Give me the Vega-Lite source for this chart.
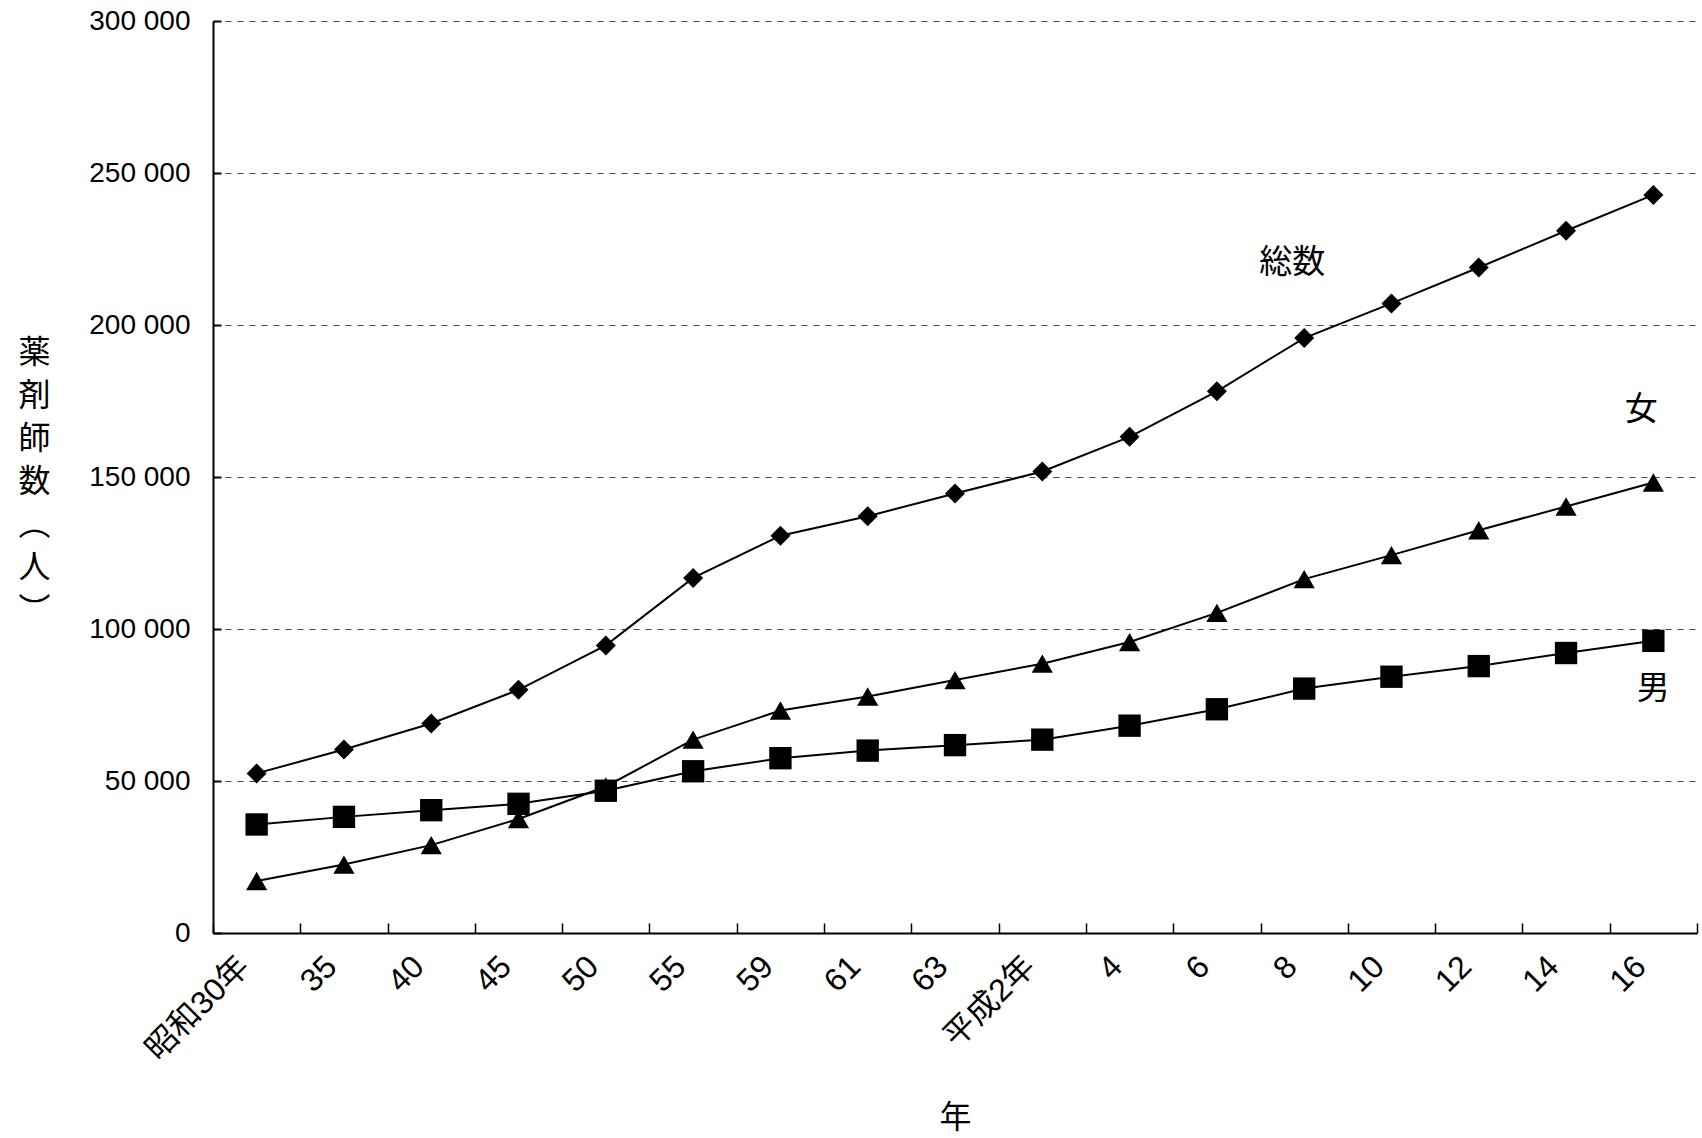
{
  "$schema": "https://vega.github.io/schema/vega-lite/v6.json",
  "width": 1484,
  "height": 912,
  "autosize": {"type": "none"},
  "padding": {"left": 213, "top": 21, "right": 5, "bottom": 205},
  "background": "white",
  "config": {
    "view": {"stroke": null},
    "font": "Liberation Sans, Noto Sans CJK JP"
  },
  "datasets": {
    "series": [
      {"year": "昭和30年", "series": "総数", "value": 52500},
      {"year": "35", "series": "総数", "value": 60350},
      {"year": "40", "series": "総数", "value": 68900},
      {"year": "45", "series": "総数", "value": 80000},
      {"year": "50", "series": "総数", "value": 94600},
      {"year": "55", "series": "総数", "value": 116800},
      {"year": "59", "series": "総数", "value": 130700},
      {"year": "61", "series": "総数", "value": 137100},
      {"year": "63", "series": "総数", "value": 144600},
      {"year": "平成2年", "series": "総数", "value": 151800},
      {"year": "4", "series": "総数", "value": 163200},
      {"year": "6", "series": "総数", "value": 178200},
      {"year": "8", "series": "総数", "value": 195700},
      {"year": "10", "series": "総数", "value": 207100},
      {"year": "12", "series": "総数", "value": 218900},
      {"year": "14", "series": "総数", "value": 231000},
      {"year": "16", "series": "総数", "value": 242800},
      {"year": "昭和30年", "series": "女", "value": 17100},
      {"year": "35", "series": "女", "value": 22500},
      {"year": "40", "series": "女", "value": 28900},
      {"year": "45", "series": "女", "value": 37500},
      {"year": "50", "series": "女", "value": 48200},
      {"year": "55", "series": "女", "value": 63600},
      {"year": "59", "series": "女", "value": 73200},
      {"year": "61", "series": "女", "value": 77800},
      {"year": "63", "series": "女", "value": 83200},
      {"year": "平成2年", "series": "女", "value": 88600},
      {"year": "4", "series": "女", "value": 95700},
      {"year": "6", "series": "女", "value": 105300},
      {"year": "8", "series": "女", "value": 116400},
      {"year": "10", "series": "女", "value": 124300},
      {"year": "12", "series": "女", "value": 132500},
      {"year": "14", "series": "女", "value": 140300},
      {"year": "16", "series": "女", "value": 148200},
      {"year": "昭和30年", "series": "男", "value": 35700},
      {"year": "35", "series": "男", "value": 38200},
      {"year": "40", "series": "男", "value": 40400},
      {"year": "45", "series": "男", "value": 42500},
      {"year": "50", "series": "男", "value": 46800},
      {"year": "55", "series": "男", "value": 53200},
      {"year": "59", "series": "男", "value": 57500},
      {"year": "61", "series": "男", "value": 60000},
      {"year": "63", "series": "男", "value": 61800},
      {"year": "平成2年", "series": "男", "value": 63600},
      {"year": "4", "series": "男", "value": 68200},
      {"year": "6", "series": "男", "value": 73600},
      {"year": "8", "series": "男", "value": 80400},
      {"year": "10", "series": "男", "value": 84300},
      {"year": "12", "series": "男", "value": 87800},
      {"year": "14", "series": "男", "value": 92100},
      {"year": "16", "series": "男", "value": 96100}
    ],
    "labels": [
      {"year": "8", "label": "総数", "value": 220400},
      {"year": "16", "label": "女", "value": 172000},
      {"year": "16", "label": "男", "value": 80300}
    ]
  },
  "encoding": {
    "x": {
      "field": "year",
      "type": "ordinal",
      "sort": null,
      "scale": {
        "type": "band",
        "domain": ["昭和30年", "35", "40", "45", "50", "55", "59", "61", "63", "平成2年", "4", "6", "8", "10", "12", "14", "16"],
        "paddingInner": 0,
        "paddingOuter": 0
      },
      "axis": {
        "title": "年",
        "titleFont": "Noto Sans CJK JP",
        "titleFontSize": 32,
        "titleFontWeight": "normal",
        "titleColor": "black",
        "titleBaseline": "middle",
        "titleY": 184,
        "labelAngle": -45,
        "labelAlign": "right",
        "labelBaseline": "middle",
        "labelFontSize": 32,
        "labelColor": "black",
        "labelPadding": 38,
        "labelOffset": -13,
        "tickBand": "extent",
        "ticks": true,
        "tickSize": -10,
        "tickColor": "black",
        "tickWidth": 1.5,
        "domainColor": "black",
        "domainWidth": 2,
        "grid": false
      }
    },
    "y": {
      "field": "value",
      "type": "quantitative",
      "scale": {"domain": [0, 300000], "nice": false, "zero": true},
      "axis": {
        "title": ["薬", "剤", "師", "数", "︵", "人", "︶"],
        "titleFont": "Noto Sans CJK JP",
        "titleFontSize": 32,
        "titleFontWeight": "normal",
        "titleColor": "black",
        "titleAngle": 0,
        "titleAlign": "center",
        "titleBaseline": "middle",
        "titleLineHeight": 43,
        "titleX": -179,
        "titleY": 331,
        "values": [0, 50000, 100000, 150000, 200000, 250000, 300000],
        "labelExpr": "replace(format(datum.value, ','), ',', ' ')",
        "labelFontSize": 28,
        "labelColor": "black",
        "labelPadding": 31,
        "ticks": true,
        "tickSize": -8,
        "tickColor": "black",
        "tickWidth": 2,
        "domainColor": "black",
        "domainWidth": 2,
        "grid": true,
        "gridColor": "#444444",
        "gridDash": [6, 6],
        "gridWidth": 1
      }
    }
  },
  "layer": [
    {
      "data": {"name": "series"},
      "mark": {"type": "line", "color": "black", "strokeWidth": 2},
      "encoding": {"detail": {"field": "series"}}
    },
    {
      "data": {"name": "series"},
      "mark": {"type": "point", "filled": true, "color": "black", "opacity": 1},
      "encoding": {
        "shape": {
          "field": "series",
          "scale": {"domain": ["総数", "女", "男"], "range": ["diamond", "triangle-up", "square"]},
          "legend": null
        },
        "size": {
          "field": "series",
          "type": "nominal",
          "scale": {"domain": ["総数", "女", "男"], "range": [400, 500, 430]},
          "legend": null
        }
      }
    },
    {
      "data": {"name": "labels"},
      "transform": [{"filter": "datum.label !== '男'"}],
      "mark": {"type": "text", "font": "Noto Sans CJK JP", "fontSize": 33, "color": "black", "baseline": "middle", "dx": -12},
      "encoding": {"text": {"field": "label"}}
    },
    {
      "data": {"name": "labels"},
      "transform": [{"filter": "datum.label === '男'"}],
      "mark": {"type": "text", "font": "Noto Sans CJK JP", "fontSize": 33, "color": "black", "baseline": "middle", "dx": 0},
      "encoding": {"text": {"field": "label"}}
    }
  ]
}
